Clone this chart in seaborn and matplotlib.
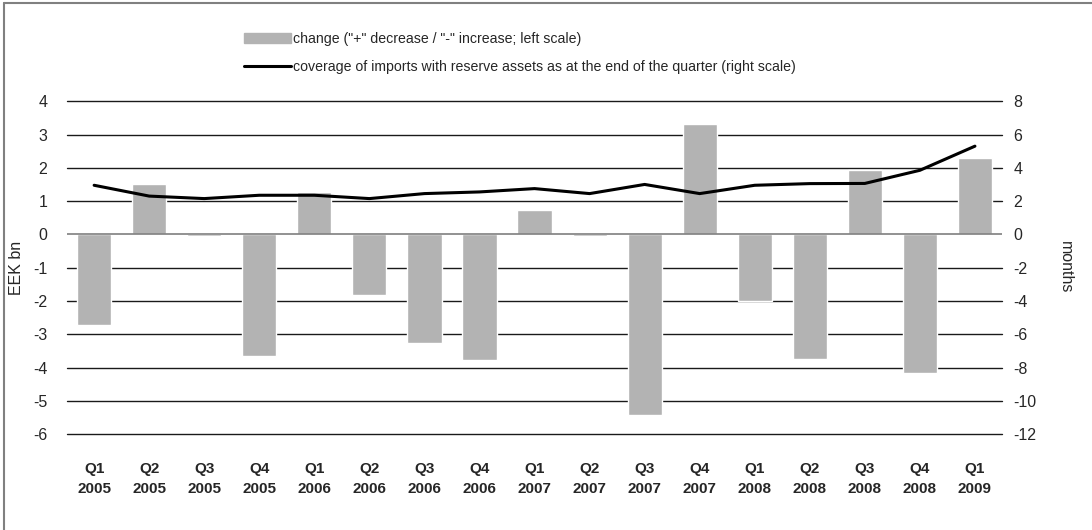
import pandas as pd
import matplotlib.pyplot as plt
import matplotlib.patches as mpatches
from matplotlib.lines import Line2D
import seaborn as sns

# Dados
quarters = ['Q1', 'Q2', 'Q3', 'Q4', 'Q1', 'Q2', 'Q3', 'Q4', 'Q1',
            'Q2', 'Q3', 'Q4', 'Q1', 'Q2', 'Q3', 'Q4', 'Q1']
years = ['2005', '2005', '2005', '2005', '2006', '2006', '2006', '2006', '2007',
         '2007', '2007', '2007', '2008', '2008', '2008', '2008', '2009']
change = [-2.72, 1.5, -0.05, -3.66, 1.26, -1.83, -3.25, -3.78, 0.73,
          -0.05, -5.42, 3.32, -2.0, -3.75, 1.93, -4.17, 2.3]
coverage = [2.95, 2.3, 2.15, 2.35, 2.35, 2.15, 2.45, 2.55, 2.75,
            2.45, 3.0, 2.45, 2.95, 3.05, 3.06, 3.85, 5.3]

labels = [f'{q}\n{y}' for q, y in zip(quarters, years)]
df = pd.DataFrame({'label': labels, 'change': change, 'coverage': coverage})
df['pos'] = range(len(df))

sns.set_style('white')
plt.rcParams['font.family'] = ['Liberation Sans', 'DejaVu Sans']
plt.rcParams['axes.unicode_minus'] = False

fig = plt.figure(figsize=(10.92, 5.3), dpi=100)
ax = fig.add_axes([0.061, 0.181, 0.857, 0.628])

# Barras (escala esquerda)
sns.barplot(data=df, x='label', y='change', color='#b3b3b3', width=0.62,
            saturation=1, ax=ax, zorder=3)
ax.set_ylim(-6, 4)
ax.set_yticks(range(-6, 5))
for v in range(-6, 5):
    if v != 0:
        ax.axhline(v, color='#1a1a1a', lw=1.0, zorder=1, clip_on=False)
ax.axhline(0, color='#7f7f7f', lw=1.2, zorder=4)
ax.set_xlabel('')
ax.set_ylabel('EEK bn', fontsize=11.5, labelpad=6)
ax.tick_params(axis='y', length=0, labelsize=11.5, pad=14)
ax.tick_params(axis='x', length=0, labelsize=11, pad=20)
for t in ax.get_xticklabels():
    t.set_fontweight('bold')
    t.set_linespacing(1.6)
for s in ax.spines.values():
    s.set_visible(False)
ax.set_xlim(-0.5, len(df) - 0.5)

# Linha (escala direita)
ax2 = ax.twinx()
sns.lineplot(data=df, x='pos', y='coverage', color='black', lw=2.2, ax=ax2, zorder=5)
ax2.set_ylim(-12, 8)
ax2.set_yticks(range(-12, 9, 2))
ax2.set_ylabel('months', fontsize=11.5, rotation=270, labelpad=26)
ax2.tick_params(axis='y', length=0, labelsize=11.5, pad=8)
for s in ax2.spines.values():
    s.set_visible(False)
ax2.set_xlim(-0.5, len(df) - 0.5)

# Legenda
handles = [mpatches.Patch(color='#b3b3b3'),
           Line2D([0], [0], color='black', lw=2.2)]
texts = ['change ("+" decrease / "-" increase; left scale)',
         'coverage of imports with reserve assets as at the end of the quarter (right scale)']
fig.legend(handles, texts, loc='upper left', bbox_to_anchor=(0.212, 0.963),
           frameon=False, fontsize=10.2, handlelength=3.3, handletextpad=0.15,
           labelspacing=0.95)

# Moldura (só topo e esquerda)
fig.add_artist(Line2D([0.004, 0.004], [0.0, 0.994], transform=fig.transFigure,
                      color='#808080', lw=1.5))
fig.add_artist(Line2D([0.004, 1.0], [0.994, 0.994], transform=fig.transFigure,
                      color='#808080', lw=1.5))

fig.savefig('out.png', dpi=100)
